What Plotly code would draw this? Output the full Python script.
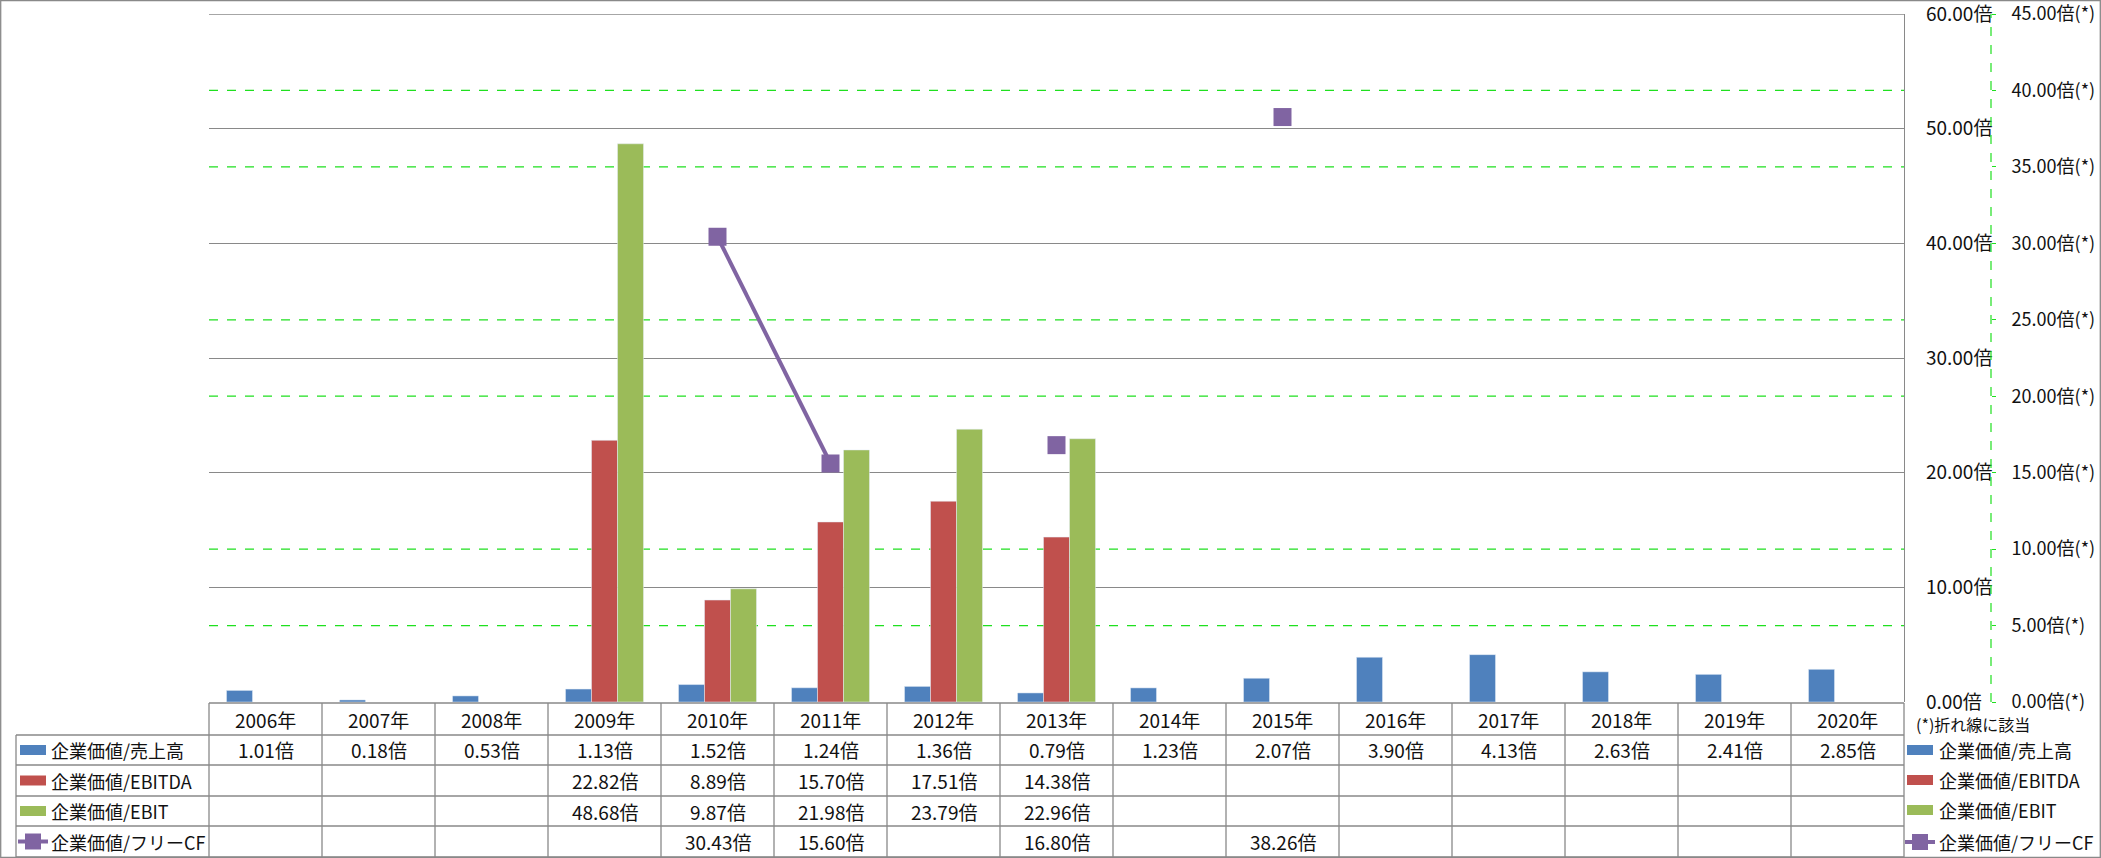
import plotly.graph_objects as go

years = ["2006年", "2007年", "2008年", "2009年", "2010年", "2011年", "2012年", "2013年",
         "2014年", "2015年", "2016年", "2017年", "2018年", "2019年", "2020年"]
ev_sales = [1.01, 0.18, 0.53, 1.13, 1.52, 1.24, 1.36, 0.79, 1.23, 2.07, 3.90, 4.13, 2.63, 2.41, 2.85]
ev_ebitda = [None, None, None, 22.82, 8.89, 15.70, 17.51, 14.38, None, None, None, None, None, None, None]
ev_ebit = [None, None, None, 48.68, 9.87, 21.98, 23.79, 22.96, None, None, None, None, None, None, None]
ev_fcf = [None, None, None, None, 30.43, 15.60, None, 16.80, None, 38.26, None, None, None, None, None]
names = ["企業価値/売上高", "企業価値/EBITDA", "企業価値/EBIT", "企業価値/フリーCF"]
left_ticks = [0, 10, 20, 30, 40, 50, 60]
right_ticks = [0, 5, 10, 15, 20, 25, 30, 35, 40, 45]
green_grid = [5, 10, 20, 25, 35, 40]

C_BLUE, C_RED, C_GREEN, C_PURPLE = "#4F81BD", "#C0504D", "#9BBB59", "#8064A2"
GRAY = "#898989"
LIME = "#1FE01F"
FONT = "Noto Sans CJK JP"
TXT = "#111111"

W, H = 2101, 858
L, T, B = 209, 14, 702
PW = W - L
PH = B - T
PLOT_R = 1904
AX2 = 1991


def PX(p):
    return (p - L) / PW


def PY(p):
    return (B - p) / PH


fig = go.Figure()
fig.add_trace(go.Bar(x=years, y=ev_sales, name=names[0], marker_color=C_BLUE))
fig.add_trace(go.Bar(x=years, y=ev_ebitda, name=names[1], marker_color=C_RED))
fig.add_trace(go.Bar(x=years, y=ev_ebit, name=names[2], marker_color=C_GREEN))
fig.add_trace(go.Scatter(x=years, y=ev_fcf, name=names[3], yaxis="y2", mode="lines+markers",
                         connectgaps=False,
                         line=dict(color=C_PURPLE, width=4),
                         marker=dict(symbol="square", size=18, color=C_PURPLE)))

shapes = []
annotations = []

# green dashed secondary gridlines
for v in green_grid:
    shapes.append(dict(type="line", xref="paper", yref="y2", x0=0, x1=PX(PLOT_R), y0=v, y1=v,
                       line=dict(color=LIME, width=1.2, dash="dash"), layer="below"))
# top primary gridline
shapes.append(dict(type="line", xref="paper", yref="y", x0=0, x1=PX(PLOT_R), y0=60, y1=60,
                   line=dict(color=GRAY, width=1.3), layer="below"))
# secondary axis dashed line
shapes.append(dict(type="line", xref="paper", yref="paper", x0=PX(AX2), x1=PX(AX2), y0=0, y1=1,
                   line=dict(color=LIME, width=1.2, dash="dash")))

# data table lines
row_lines = [735, 765, 796, 826, 857]
shapes.append(dict(type="line", xref="paper", yref="paper", x0=PX(L), x1=PX(PLOT_R),
                   y0=PY(703), y1=PY(703), line=dict(color=GRAY, width=1.3)))
for ry in row_lines:
    shapes.append(dict(type="line", xref="paper", yref="paper", x0=PX(16), x1=PX(PLOT_R),
                       y0=PY(ry), y1=PY(ry), line=dict(color=GRAY, width=1.3)))
n = len(years)
cw = (PLOT_R - L) / n
for i in range(n + 1):
    xx = L + cw * i
    shapes.append(dict(type="line", xref="paper", yref="paper", x0=PX(xx), x1=PX(xx),
                       y0=PY(703), y1=PY(857), line=dict(color=GRAY, width=1.3)))
shapes.append(dict(type="line", xref="paper", yref="paper", x0=PX(16), x1=PX(16),
                   y0=PY(735), y1=PY(857), line=dict(color=GRAY, width=1.3)))
# outer chart border
shapes.append(dict(type="rect", xref="paper", yref="paper", x0=PX(0.7), x1=PX(2100.3),
                   y0=PY(0.7), y1=PY(857.3), line=dict(color=GRAY, width=1.3)))

TFS = 19
LFS = 18
# header row
for yr in years:
    annotations.append(dict(xref="x", yref="paper", x=yr, y=PY(719), text=yr, showarrow=False,
                            font=dict(family=FONT, size=TFS, color=TXT), xanchor="center", yanchor="middle"))
row_centers = [750, 780.5, 811, 841.5]
series = [ev_sales, ev_ebitda, ev_ebit, ev_fcf]
for rc, s in zip(row_centers, series):
    for yr, v in zip(years, s):
        if v is None:
            continue
        annotations.append(dict(xref="x", yref="paper", x=yr, y=PY(rc), text=f"{v:.2f}倍",
                                showarrow=False, font=dict(family=FONT, size=TFS, color=TXT),
                                xanchor="center", yanchor="middle"))

# legend keys (left table column and right legend)
colors = [C_BLUE, C_RED, C_GREEN, C_PURPLE]
right_rows = [750, 780, 810, 842]
for k in range(4):
    for (sx0, sx1, tx, cy) in [(20, 46, 49, row_centers[k]), (1907, 1933, 1937, right_rows[k])]:
        if k < 3:
            shapes.append(dict(type="rect", xref="paper", yref="paper", x0=PX(sx0), x1=PX(sx1),
                               y0=PY(cy + 5), y1=PY(cy - 5), fillcolor=colors[k], line=dict(width=0)))
        else:
            shapes.append(dict(type="line", xref="paper", yref="paper", x0=PX(sx0 - 2), x1=PX(sx1 + 2),
                               y0=PY(cy), y1=PY(cy), line=dict(color=C_PURPLE, width=4)))
            mc = (sx0 + sx1) / 2
            shapes.append(dict(type="rect", xref="paper", yref="paper", x0=PX(mc - 8), x1=PX(mc + 8),
                               y0=PY(cy + 8), y1=PY(cy - 8), fillcolor=C_PURPLE, line=dict(width=0)))
        annotations.append(dict(xref="paper", yref="paper", x=PX(tx), y=PY(cy), text=names[k],
                                showarrow=False, font=dict(family=FONT, size=LFS, color=TXT),
                                xanchor="left", yanchor="middle"))
annotations.append(dict(xref="paper", yref="paper", x=PX(1914), y=PY(724), text="(*)折れ線に該当",
                        showarrow=False, font=dict(family=FONT, size=16, color=TXT),
                        xanchor="left", yanchor="middle"))

fig.update_layout(
    width=W, height=H,
    margin=dict(l=L, r=0, t=T, b=H - B, pad=0),
    paper_bgcolor="white", plot_bgcolor="white",
    barmode="group", bargap=0.31, bargroupgap=0,
    showlegend=False,
    font=dict(family=FONT, size=19, color=TXT),
    xaxis=dict(domain=[0, PX(PLOT_R)], range=[-0.5, n - 0.5], showticklabels=False,
               showgrid=False, zeroline=False, showline=False, ticks=""),
    yaxis=dict(range=[0, 60], anchor="free", position=PX(PLOT_R), side="right",
               tickvals=left_ticks, ticktext=[f"{v:.2f}倍" for v in left_ticks],
               showgrid=True, gridcolor=GRAY, gridwidth=1.3, zeroline=False,
               showline=True, linecolor=GRAY, linewidth=1.3, ticks="",
               ticklabelstandoff=17, ticklabeloverflow="allow",
               tickfont=dict(family=FONT, size=19, color=TXT)),
    yaxis2=dict(range=[0, 45], overlaying="y", anchor="free", position=PX(AX2), side="right",
                tickvals=right_ticks, ticktext=[f"{v:.2f}倍(*)" for v in right_ticks],
                showgrid=False, zeroline=False, showline=False,
                ticks="outside", ticklen=4, tickcolor=LIME, tickwidth=1.2,
                ticklabelstandoff=12, ticklabeloverflow="allow",
                tickfont=dict(family=FONT, size=18, color=TXT)),
    shapes=shapes, annotations=annotations,
)

fig.write_html("out.html")
